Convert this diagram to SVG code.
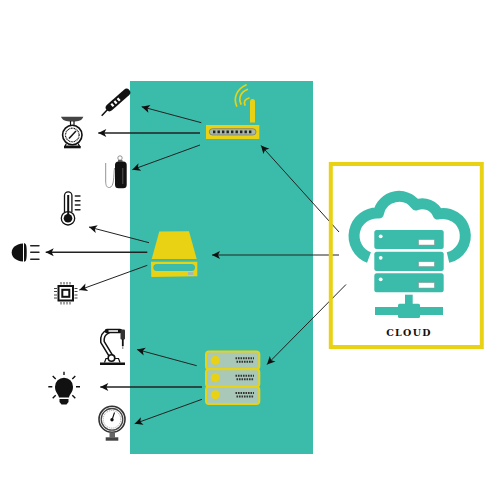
<svg xmlns="http://www.w3.org/2000/svg" width="486" height="498" viewBox="0 0 486 498">
<style>
.y{fill:#e8d213}.t{fill:#3bbcaa}.k{fill:#111}
.o{fill:none;stroke:#111;stroke-width:1.2}
.w{fill:none;stroke:#e8d213;stroke-width:1.7;stroke-linecap:round}
.r{stroke:#222;stroke-width:1.4;stroke-linecap:round}
.c{fill:none;stroke:#222;stroke-width:1;marker-end:url(#a)}
.h{stroke-width:1.5}
.s{fill:#a9c8b8;stroke:#e8d213;stroke-width:2}
.d{fill:none;stroke:#333;stroke-width:2;stroke-dasharray:1.6 .9}
.p{fill:#fff;stroke:#999;stroke-width:.5}
</style>
<defs>
<marker id="a" markerUnits="userSpaceOnUse" markerWidth="10" markerHeight="10" refX="8" refY="4" orient="auto" overflow="visible"><path d="M8 4 L0 0 L2 4 L0 8Z" fill="#111"/></marker>
</defs>
<rect id="panel" x="130" y="81" width="183" height="373" class="t"/>
<g id="connectors">
<path class="c" d="M201.300 122.700 L141.700 106.700"/>
<path class="c h" d="M200 133 L98.300 133"/>
<path class="c" d="M200 145 L132.300 169.700"/>
<path class="c" d="M149 242.700 L89 227"/>
<path class="c h" d="M147.300 252.300 L45.700 252.300"/>
<path class="c" d="M147.300 265.300 L79.300 290"/>
<path class="c" d="M196.700 365.700 L137 349.500"/>
<path class="c h" d="M202 387 L100.300 387"/>
<path class="c" d="M202 399.300 L134.700 423.700"/>
<path class="c" d="M339 232 L261 145.500"/>
<path class="c" d="M339 255 L212 255"/>
<path class="c" d="M346 284.500 L267 364.500"/>
</g>
<g id="router">
<rect x="206" y="125" width="53.300" height="14" class="y"/>
<rect x="209.300" y="128.700" width="46.700" height="6.300" rx="3.100" fill="#a9b8a8" stroke="#666" stroke-width=".6"/>
<path d="M213 131.900 H253" fill="none" stroke="#222" stroke-width="2.600" stroke-dasharray="2.400 2.100"/>
<path d="M250 122.500 V101.500 a2.500 2.500 0 0 1 5 0 V122.500Z" class="y"/>
<path class="w" d="M246 85 C237 89 233 98 236.700 106"/>
<path class="w" d="M247.300 89.500 C241 92 238 98 241 104"/>
<path class="w" d="M249 98 C245 99 243.500 102 245 105"/>
</g>
<g id="storage">
<path d="M159.300 231.500 L189 231.300 L196.700 259 L151.700 259Z" class="y"/>
<path d="M151 261.700 H197.300 V276.200 L151.300 276.900Z" class="y"/>
<rect x="153.300" y="264" width="41.700" height="7" rx="3.500" class="t"/>
<rect x="188" y="272" width="5.300" height="3" fill="#a9b8a8"/>
</g>
<g id="servers">
<rect x="206" y="351.500" width="53.300" height="17.800" rx="3" class="s"/>
<rect x="206" y="369.300" width="53.300" height="17.400" rx="3" class="s"/>
<rect x="206" y="386.700" width="53.300" height="17.300" rx="3" class="s"/>
<circle cx="215.300" cy="360.300" r="4.500" class="y"/>
<circle cx="215.300" cy="377.700" r="4.500" class="y"/>
<circle cx="215.300" cy="394.700" r="4.500" class="y"/>
<path class="d" d="M235.500 358.300 H254 M236.500 361.800 H254 M235.500 375.700 H254 M236.500 379.200 H254 M235.500 393 H254 M236.500 396.500 H254"/>
</g>
<g id="probe">
<path d="M126.500 92.500 L109.500 107.500" fill="none" stroke="#111" stroke-width="7.500" stroke-linecap="round"/>
<path d="M109 108 L101.700 115.700" fill="none" stroke="#111" stroke-width="1.500"/>
<path d="M119.500 98.700 L110.500 106.700" fill="none" stroke="#fff" stroke-width="3.400" stroke-dasharray="2.200 2"/>
</g>
<g id="scale">
<path d="M61 116.700 H83.300 C82 120.500 79 121.500 72.300 121.500 C65.500 121.500 62.500 120.500 61 116.700Z" fill="#444"/>
<path d="M70.500 121 V125 M74 121 V125" class="o"/>
<circle cx="72.300" cy="135" r="9.700" fill="#fff" stroke="#111" stroke-width="1.600"/>
<circle cx="72.300" cy="135" r="6.800" class="o" stroke-dasharray="1 .6"/>
<path d="M69 138.500 L76 131" fill="none" stroke="#111" stroke-width="1.500"/>
<path d="M66.500 143.500 L65 146 H79.500 L78 143.500" class="o"/>
<rect x="64" y="146" width="16.700" height="2.300" class="k"/>
</g>
<g id="cylinder">
<rect x="115" y="161.500" width="11.700" height="26.800" rx="3.500" class="k"/>
<path d="M122.800 168 V184" stroke="#555" stroke-width="1"/>
<circle cx="120" cy="158" r="2.200" fill="none" stroke="#777" stroke-width=".8"/>
<path d="M118 161 H122.500" stroke="#333" stroke-width="1.500"/>
<path d="M114.500 168 C113.500 175 114.500 187 109.500 187.500 C106 187.800 105.700 184 105.700 181 V163" fill="none" stroke="#888" stroke-width=".9"/>
</g>
<g id="thermometer">
<path d="M64.500 212 V195.500 a3.700 3.700 0 0 1 7.400 0 V212" fill="#fff" stroke="#111" stroke-width="1.300"/>
<circle cx="68" cy="218.300" r="6.700" fill="#fff" stroke="#111" stroke-width="1.300"/>
<circle cx="68" cy="218.300" r="4.300" class="k"/>
<path d="M68.200 195 V216" fill="none" stroke="#111" stroke-width="2"/>
<path class="r" d="M75.300 196 H80 M75.300 200.700 H80 M75.300 205 H80 M75.300 209.700 H80"/>
</g>
<g id="headlight">
<path d="M23 243.500 C15.500 244 11.700 248 11.700 252.500 C11.700 257 15.500 261 23 261.500Z" class="k"/>
<path d="M24 243.300 C26 243.300 26.700 245 26.700 252.500 C26.700 260 26 261.700 24 261.700Z" class="k"/>
<path d="M30.700 245.700 H39 M30.700 252.300 H39 M30.700 259.300 H39" class="r"/>
</g>
<g id="chip">
<rect x="58.500" y="286" width="14.500" height="14.500" fill="#fff" stroke="#111" stroke-width="2"/>
<rect x="62.300" y="289.800" width="7" height="7" fill="#fff" stroke="#111" stroke-width="2"/>
<path d="M61 282 V284.500 M64 282 V284.500 M67 282 V284.500 M70 282 V284.500 M61 302 V304.500 M64 302 V304.500 M67 302 V304.500 M70 302 V304.500 M54 288.500 H57 M54 291.500 H57 M54 295 H57 M54 298 H57 M74.500 288.500 H77.500 M74.500 291.500 H77.500 M74.500 295 H77.500 M74.500 298 H77.500" fill="none" stroke="#444" stroke-width="1"/>
</g>
<g id="robot">
<rect x="100" y="362.500" width="25" height="2.500" class="k"/>
<path d="M104.500 362.500 L106 358.500 H118.500 L120 362.500" class="o"/>
<path d="M111 356 L102.500 342 C102 337 104 333 108 331.500" fill="none" stroke="#111" stroke-width="5" stroke-linecap="round"/>
<path d="M111 356 L102.500 342 C102 337 104 333 108 331.500" fill="none" stroke="#fff" stroke-width="2" stroke-linecap="round"/>
<path d="M107 331 H120" fill="none" stroke="#111" stroke-width="4.600" stroke-linecap="round"/>
<path d="M108.500 331 H118" fill="none" stroke="#ccc" stroke-width="2"/>
<circle cx="111.500" cy="358" r="3.300" fill="#fff" stroke="#111" stroke-width="1.600"/>
<rect x="120.500" y="329.500" width="4.500" height="10" rx="1" fill="#333"/>
<path d="M122.800 339 V346" fill="none" stroke="#111" stroke-width="1.800"/>
<path d="M122.800 346 V349" fill="none" stroke="#555" stroke-width=".8"/>
</g>
<g id="bulb">
<path d="M59 397.500 C58.500 394 55 392.500 55 386.700 A9 9 0 0 1 73 386.700 C73 392.500 69.500 394 69 397.500Z" class="k"/>
<path d="M59.500 399 H68.500 V402 L66.500 404.500 H61.500 L59.500 402Z" class="k"/>
<path d="M64 371.700 V375 M48.300 386.700 H52.300 M76 386.700 H80 M52.700 376 L55.700 379 M75.300 376 L72.300 379 M52.700 398.300 L55.700 395.300 M75.300 398.300 L72.300 395.300" stroke="#111" stroke-width="1.400" fill="none"/>
</g>
<g id="gauge">
<circle cx="112" cy="419.300" r="13" fill="#fff" stroke="#333" stroke-width="1.600"/>
<circle cx="112" cy="419.300" r="10.800" fill="none" stroke="#444" stroke-width="1.300"/>
<circle cx="112" cy="419.300" r="8.800" fill="none" stroke="#888" stroke-width=".8" stroke-dasharray="1 1"/>
<circle cx="112" cy="419.800" r="1.700" class="k"/>
<path d="M112 420 L114.500 412.500" stroke="#111" stroke-width="1.100"/>
<rect x="109.500" y="432.500" width="5.500" height="5" fill="#666"/>
<rect x="105.700" y="437.300" width="12.600" height="3.400" fill="#444"/>
</g>
<g id="cloud">
<rect x="330.800" y="164" width="151" height="183" fill="none" stroke="#e8d213" stroke-width="4"/>
<path d="M369 257.500 A23 23 0 0 1 378.500 213 A21 21 0 0 1 416 205 A17 17 0 0 1 438 214 A22 22 0 0 1 448 257.500" fill="none" stroke="#3bbcaa" stroke-width="11" stroke-linejoin="round"/>
<rect x="374.300" y="230" width="69.400" height="19" rx="2.500" class="t"/>
<rect x="374.300" y="251.700" width="69.400" height="19.300" rx="2.500" class="t"/>
<rect x="374.300" y="273.300" width="69.400" height="19" rx="2.500" class="t"/>
<circle cx="380.700" cy="236.300" r="1.900" fill="#fff"/>
<circle cx="380.700" cy="257.800" r="1.900" fill="#fff"/>
<circle cx="380.700" cy="279.300" r="1.900" fill="#fff"/>
<rect x="418.700" y="239.700" width="15.600" height="5.300" class="p"/>
<rect x="418.700" y="261.800" width="15.600" height="4.600" class="p"/>
<rect x="418.700" y="282.700" width="15.600" height="5.300" class="p"/>
<rect x="405" y="294.700" width="7.700" height="10" class="t"/>
<rect x="375" y="307" width="68" height="8" class="t"/>
<rect x="398" y="303.700" width="22" height="14.300" rx="1.500" class="t"/>
<text x="409" y="335.500" text-anchor="middle" font-family="'DejaVu Serif',serif" font-weight="700" font-size="9.500" letter-spacing="1.300" fill="#111">CLOUD</text>
</g>
</svg>
